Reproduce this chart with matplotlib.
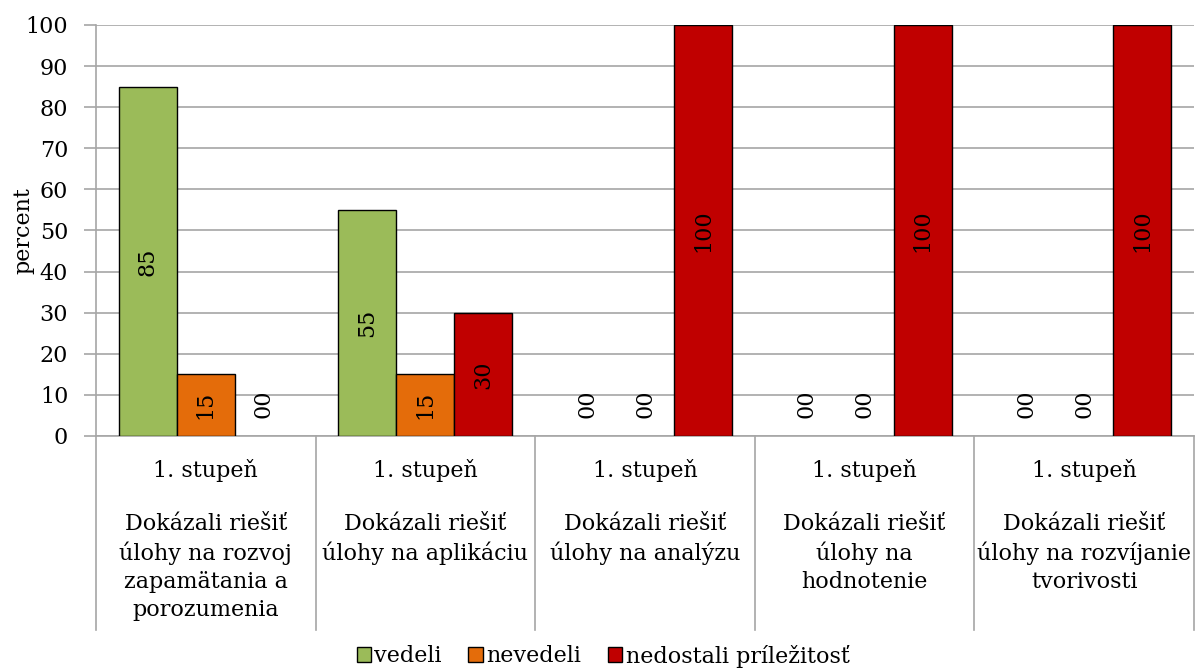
import matplotlib
matplotlib.use("Agg")
import matplotlib.pyplot as plt
import numpy as np
from matplotlib.patches import Patch

categories_top = ["1. stupeň"] * 5
categories = [
    "Dokázali riešiť\núlohy na rozvoj\nzapamätania a\nporozumenia",
    "Dokázali riešiť\núlohy na aplikáciu",
    "Dokázali riešiť\núlohy na analýzu",
    "Dokázali riešiť\núlohy na\nhodnotenie",
    "Dokázali riešiť\núlohy na rozvíjanie\ntvorivosti",
]
series_names = ["vedeli", "nevedeli", "nedostali príležitosť"]
vedeli = [85, 55, 0, 0, 0]
nevedeli = [15, 15, 0, 0, 0]
nedostali = [0, 30, 100, 100, 100]
colors = ["#9BBB59", "#E46C0A", "#C00000"]

plt.rcParams['font.family'] = ['DejaVu Serif']
FS = 16

fig = plt.figure(figsize=(11.96, 6.70), dpi=100)
ax = fig.add_axes([96/1196, 1-436/670, (1194-96)/1196, (436-25)/670])

n = len(categories)
x = np.arange(n)
gap = 0.104  # fraction of category at each side
bw = (1 - 2*gap) / 3
data = [vedeli, nevedeli, nedostali]
for i, (vals, col, name) in enumerate(zip(data, colors, series_names)):
    pos = x - 0.5 + gap + bw*(i + 0.5)
    edges = ["black" if v != 0 else "none" for v in vals]
    ax.bar(pos, vals, width=bw, color=col, edgecolor=edges, linewidth=1.0,
           label=name, zorder=3)
    for p, v in zip(pos, vals):
        if v == 0:
            ax.text(p, 7.8, "00", rotation=90, ha="center", va="center",
                    fontsize=FS, zorder=4)
        else:
            ax.text(p, v/2, f"{v}", rotation=90, ha="center", va="center",
                    fontsize=FS, zorder=4)

ax.set_xlim(-0.5, n - 0.5)
ax.set_ylim(0, 100)
ax.set_yticks(np.arange(0, 101, 10))
ax.tick_params(axis="y", labelsize=FS, length=9, color="#A6A6A6", width=1.2, pad=11)
ax.set_xticks([])
ax.grid(axis="y", color="#A6A6A6", linewidth=1.2, zorder=0)
ax.set_axisbelow(True)
for s in ["top", "right"]:
    ax.spines[s].set_visible(False)
ax.spines["left"].set_color("#A6A6A6")
ax.spines["left"].set_linewidth(1.2)
ax.spines["bottom"].set_color("#A6A6A6")
ax.spines["bottom"].set_linewidth(1.2)
ax.set_ylabel("percent", fontsize=FS)
ax.yaxis.set_label_coords((34 - 96) / 1098, 0.5)

# category separators below axis
h = 411.0
bottom_y = -(630 - 436) / h
trans = ax.get_xaxis_transform()
for b in np.arange(-0.5, n, 1.0):
    ax.plot([b, b], [0, bottom_y], transform=trans, color="#A6A6A6",
            linewidth=1.2, clip_on=False)

for i in range(n):
    ax.text(i, -(470 - 436) / h, categories_top[i], transform=trans,
            ha="center", va="center", fontsize=FS)
    ax.text(i, -(513 - 436) / h, categories[i], transform=trans,
            ha="center", va="top", fontsize=FS, linespacing=1.36)

handles = [Patch(facecolor=c, edgecolor="black", linewidth=1.0) for c in colors]
fig.legend(handles, series_names, loc="center", bbox_to_anchor=(603/1196, 1-656/670),
           ncol=3, frameon=False, fontsize=FS, handlelength=0.65, handleheight=0.65,
           handletextpad=0.15, columnspacing=1.2, borderpad=0)

fig.savefig("out.png", dpi=100)
